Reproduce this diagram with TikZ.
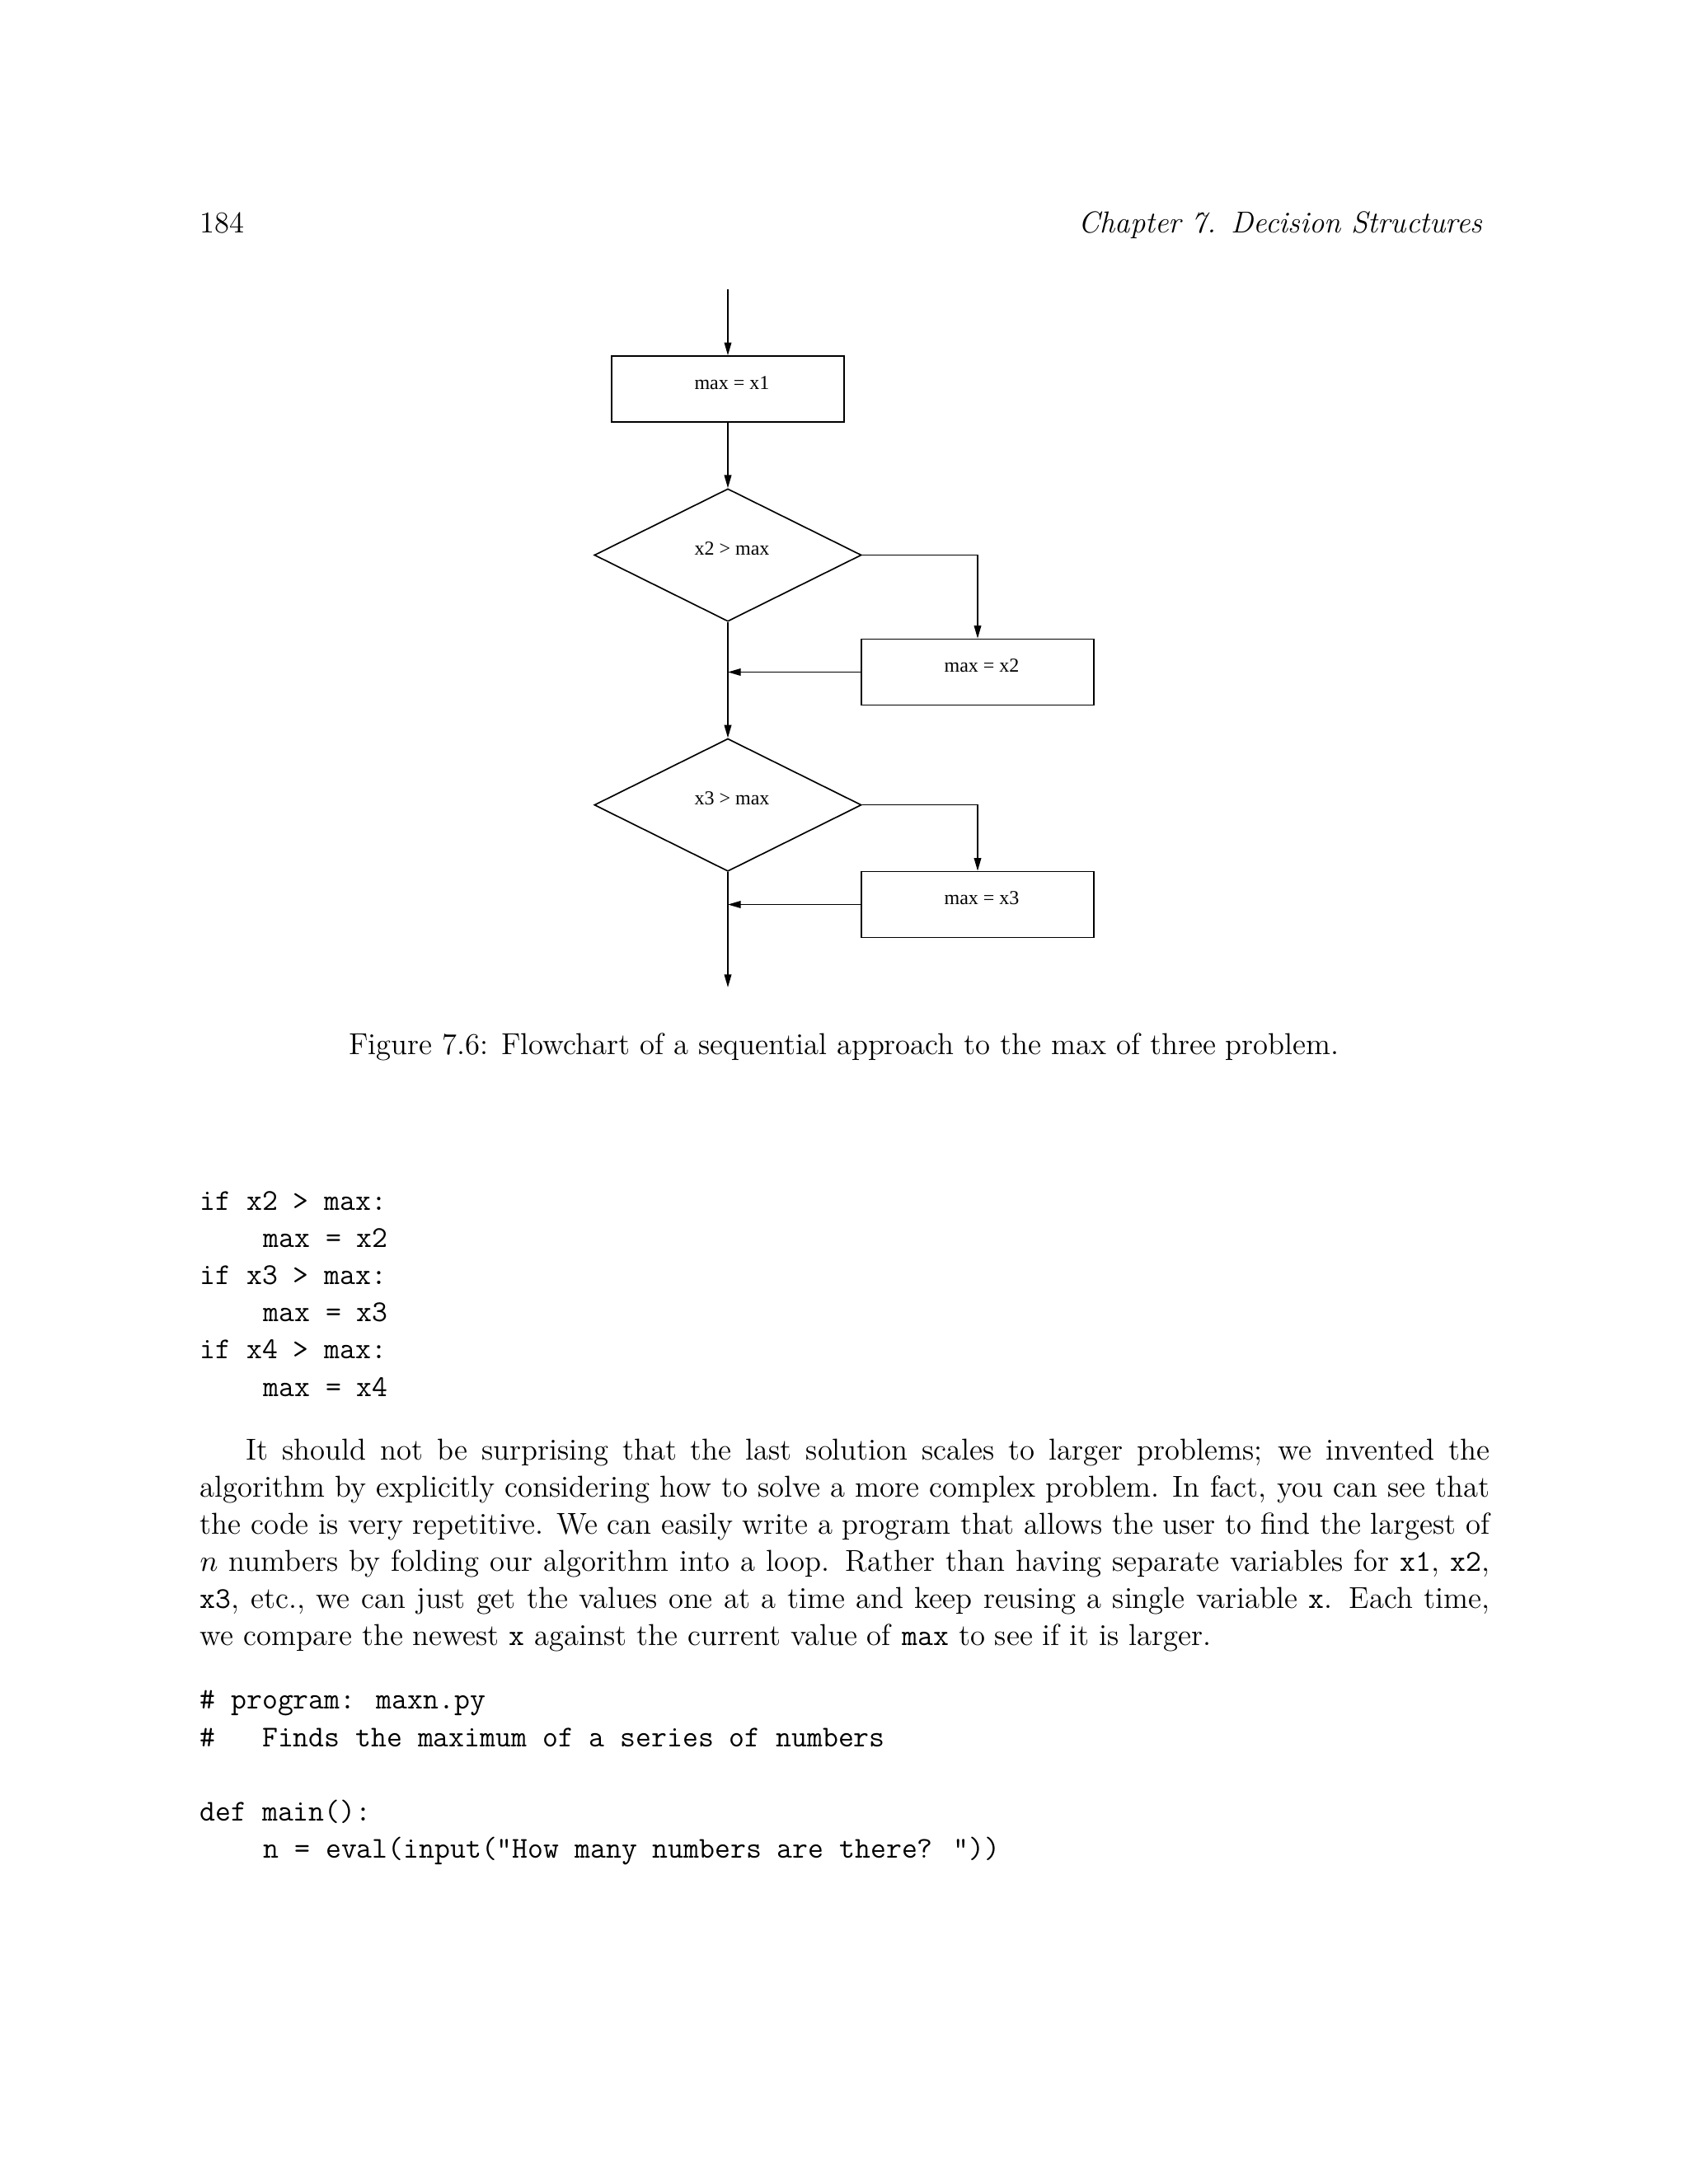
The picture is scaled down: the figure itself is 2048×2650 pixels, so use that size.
\documentclass[tikz,border=0pt]{standalone}
\usepackage{fontspec}
\newfontfamily\timesfont{Liberation Serif}
\usetikzlibrary{shapes.geometric,arrows.meta}
\begin{document}
\begin{tikzpicture}[x=0.298828bp, y=-0.298828bp,
  flowbox/.style={draw, line width=0.5pt, rectangle, minimum width=84.6pt, minimum height=24pt, inner sep=0pt, font=\timesfont\fontsize{7.2}{8}\selectfont, text height=2.5pt, text depth=2.5pt, execute at begin node={\hspace*{3pt}}},
  decision/.style={draw, line width=0.5pt, diamond, minimum width=97.2pt, minimum height=48.3pt, inner sep=0pt, font=\timesfont\fontsize{7.2}{8}\selectfont, text height=2.5pt, text depth=2.5pt, execute at begin node={\hspace*{3pt}}},
  flow/.style={line width=0.45pt, -{Triangle[length=4.7pt,width=2.6pt]}},
  body/.style={anchor=base west, inner sep=0pt, font=\fontsize{11}{13.6}\selectfont},
  codeline/.style={anchor=base west, inner sep=0pt, font=\ttfamily\fontsize{11}{13.6}\selectfont}
]
\fill[white] (0,0) rectangle (2048,2650);
\useasboundingbox (0,0) rectangle (2048,2650);

% header
\node[body] (pagenum) at (242,282) {184};
\node[body, anchor=base east] (chap) at (1799,282) {\itshape Chapter 7.\enspace Decision Structures};

% flowchart
\coordinate (start) at (883,351);
\node[flowbox] (b1) at (883,472) {max = x1};
\node[decision] (d1) at (883,673.5) {x2 > max};
\node[flowbox] (b2) at (1186,815.5) {max = x2};
\node[decision] (d2) at (883,976.7) {x3 > max};
\node[flowbox] (b3) at (1186,1097.5) {max = x3};
\coordinate (finish) at (883,1198);

\draw[flow] (start) -- (b1.north);
\draw[flow] (b1.south) -- (d1.north);
\draw[flow] (d1.east) -| (b2.north);
\draw[flow] (d1.south) -- (d2.north);
\draw[flow] (b2.west) -- (b2.west -| d1.south);
\draw[flow] (d2.east) -| (b3.north);
\draw[flow] (d2.south) -- (finish);
\draw[flow] (b3.west) -- (b3.west -| d2.south);

% caption
\node[body, anchor=base] (caption) at (1024,1279) {Figure 7.6: Flowchart of a sequential approach to the max of three problem.};

% code block 1
\node[codeline] (c1) at (242,1468) {if x2 > max:};
\node[codeline] (c2) at (319,1513) {max = x2};
\node[codeline] (c3) at (242,1558) {if x3 > max:};
\node[codeline] (c4) at (319,1603) {max = x3};
\node[codeline] (c5) at (242,1648) {if x4 > max:};
\node[codeline] (c6) at (319,1694) {max = x4};

% paragraph
\node[body] (p1) at (298,1771) {\hbox to 452.5pt{It should not be surprising that the last solution scales to larger problems; we invented the}};
\node[body] (p2) at (242,1816) {\hbox to 469.3pt{algorithm by explicitly considering how to solve a more complex problem. In fact, you can see that}};
\node[body] (p3) at (242,1861) {\hbox to 469.3pt{the code is very repetitive. We can easily write a program that allows the user to find the largest of}};
\node[body] (p4) at (242,1906) {\hbox to 469.3pt{$n$ numbers by folding our algorithm into a loop. Rather than having separate variables for \texttt{x1}, \texttt{x2},}};
\node[body] (p5) at (242,1951) {\hbox to 469.3pt{\texttt{x3}, etc., we can just get the values one at a time and keep reusing a single variable \texttt{x}. Each time,}};
\node[body] (p6) at (242,1996) {we compare the newest \texttt{x} against the current value of \texttt{max} to see if it is larger.};

% code block 2
\node[codeline] (c7) at (242,2073) {\# program: maxn.py};
\node[codeline] (c8) at (242,2119) {\#\ \ \ Finds the maximum of a series of numbers};
\node[codeline] (c9) at (242,2209) {def main():};
\node[codeline] (c10) at (319,2254) {n = eval(input("How many numbers are there? "))};
\end{tikzpicture}
\end{document}
